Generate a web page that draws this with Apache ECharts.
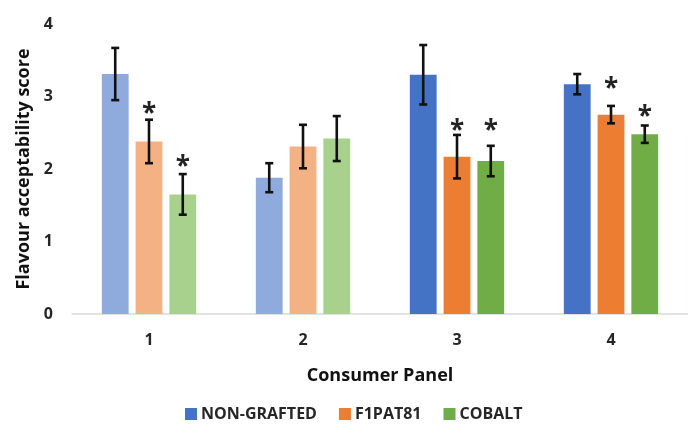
<!DOCTYPE html>
<html>
<head>
<meta charset="utf-8">
<script src="https://cdn.jsdelivr.net/npm/echarts@6/dist/echarts.min.js"></script>
<style>
html,body{margin:0;padding:0;background:#fff;}
#chart{width:688px;height:428px;}
</style>
</head>
<body>
<div id="chart"></div>
<script>
// ---- data ----
var categories = ['1', '2', '3', '4'];
var seriesNames = ['NON-GRAFTED', 'F1PAT81', 'COBALT'];
var nonGrafted = [3.31, 1.88, 3.30, 3.17];
var f1pat81 = [2.38, 2.31, 2.17, 2.75];
var cobalt = [1.65, 2.42, 2.11, 2.48];
var errNonGrafted = [0.36, 0.20, 0.41, 0.14];
var errF1pat81 = [0.30, 0.30, 0.30, 0.12];
var errCobalt = [0.28, 0.31, 0.21, 0.12];
// significance star positions (value units), null = no star
var starNonGrafted = [null, null, null, null];
var starF1pat81 = [2.85, null, 2.61, 3.19];
var starCobalt = [2.12, null, 2.61, 2.81];
var yTicks = [0, 1, 2, 3, 4];

// ---- style ----
var darkColors = ['#4472C4', '#ED7D31', '#70AD47'];
var lightColors = ['#8FAADC', '#F4B183', '#A9D18E'];
var fadedPanel = [true, true, false, false];
var BAR_PCT = 0.174, GAP_PCT = 0.26;
var FONT = '"Open Sans", sans-serif';

var values = [nonGrafted, f1pat81, cobalt];
var errs = [errNonGrafted, errF1pat81, errCobalt];
var stars = [starNonGrafted, starF1pat81, starCobalt];

var chart = echarts.init(document.getElementById('chart'), null, {renderer: 'canvas'});

var series = [];
seriesNames.forEach(function (name, s) {
  series.push({
    name: name,
    type: 'bar',
    barWidth: (BAR_PCT * 100) + '%',
    barGap: (GAP_PCT * 100) + '%',
    itemStyle: {color: darkColors[s]},
    data: values[s].map(function (v, i) {
      return {value: v, itemStyle: {color: fadedPanel[i] ? lightColors[s] : darkColors[s]}};
    }),
    z: 2
  });
});

// error bars + stars
seriesNames.forEach(function (name, s) {
  series.push({
    type: 'custom',
    name: name + '_err',
    silent: true,
    z: 5,
    renderItem: function (params, api) {
      var i = api.value(0);
      var v = api.value(1);
      var e = api.value(2);
      var st = api.value(3);
      var band = api.size([1, 0])[0];
      var bw = band * BAR_PCT;
      var off = (s - 1) * (bw * (1 + GAP_PCT));
      var top = api.coord([i, v + e]);
      var bot = api.coord([i, v - e]);
      var x = top[0] + off;
      var cap = 4;
      var children = [
        {type: 'line', shape: {x1: x, y1: top[1], x2: x, y2: bot[1]}, style: {stroke: '#111', lineWidth: 2.6}},
        {type: 'line', shape: {x1: x - cap, y1: top[1], x2: x + cap, y2: top[1]}, style: {stroke: '#111', lineWidth: 2.6}},
        {type: 'line', shape: {x1: x - cap, y1: bot[1], x2: x + cap, y2: bot[1]}, style: {stroke: '#111', lineWidth: 2.6}}
      ];
      if (st != null && !isNaN(st)) {
        var sp = api.coord([i, st]);
        children.push({
          type: 'text',
          style: {x: x, y: sp[1] + 7, text: '*', fill: '#222', font: 'bold 26px ' + FONT, align: 'center', verticalAlign: 'middle'}
        });
      }
      return {type: 'group', children: children};
    },
    data: values[s].map(function (v, i) {
      return [i, v, errs[s][i], stars[s][i] == null ? NaN : stars[s][i]];
    }),
    encode: {x: 0, y: 1}
  });
});

chart.setOption({
  animation: false,
  backgroundColor: '#fff',
  grid: {left: 72, right: -6, top: 24, bottom: 114, containLabel: false},
  legend: {
    data: seriesNames,
    left: 180,
    top: 401,
    icon: 'rect',
    itemWidth: 12,
    itemHeight: 12,
    itemGap: 22,
    textStyle: {fontFamily: FONT, fontWeight: 'bold', fontSize: 16, color: '#262626', padding: [0, 0, 0, -1]}
  },
  xAxis: {
    type: 'category',
    data: categories,
    name: 'Consumer Panel',
    nameLocation: 'middle',
    nameGap: 53,
    nameTextStyle: {fontFamily: FONT, fontWeight: 'bold', fontSize: 18, color: '#111'},
    axisLine: {lineStyle: {color: '#d9d9d9', width: 1.5}},
    axisTick: {show: false},
    axisLabel: {fontFamily: FONT, fontWeight: 'bold', fontSize: 16, color: '#262626', margin: 18}
  },
  yAxis: {
    type: 'value',
    min: yTicks[0],
    max: yTicks[yTicks.length - 1],
    interval: 1,
    name: 'Flavour acceptability score',
    nameLocation: 'middle',
    nameGap: 36,
    nameTextStyle: {fontFamily: FONT, fontWeight: 'bold', fontSize: 18, color: '#111'},
    axisLine: {show: false},
    axisTick: {show: false},
    splitLine: {show: false},
    axisLabel: {fontFamily: FONT, fontWeight: 'bold', fontSize: 16, color: '#262626', margin: 19}
  },
  series: series
});
</script>
</body>
</html>
